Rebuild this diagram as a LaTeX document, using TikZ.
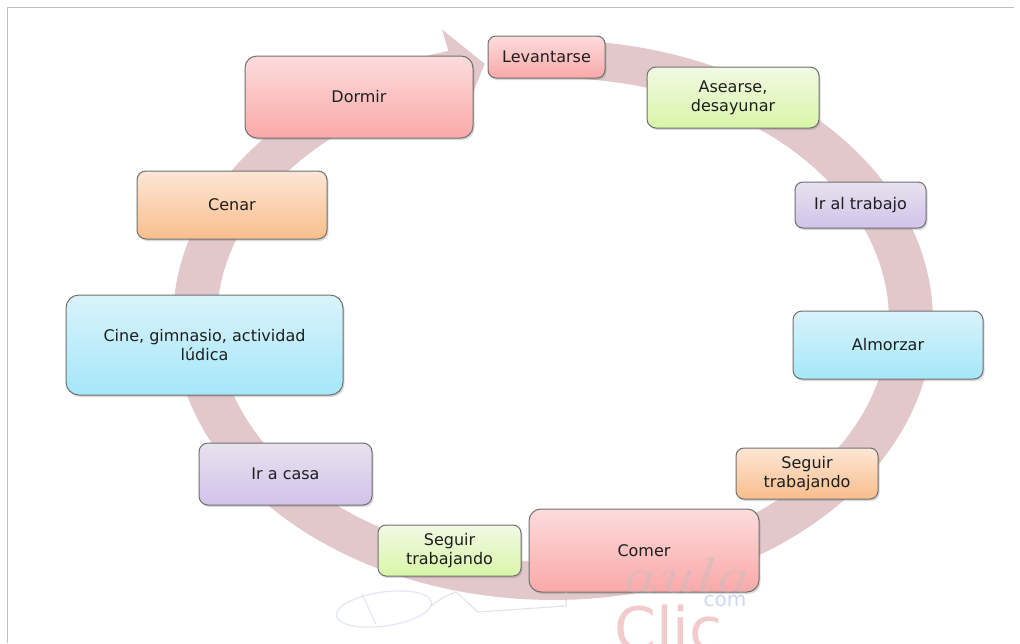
\documentclass[tikz,border=0pt]{standalone}
\usepackage{fontspec}
\newfontfamily\lab{DejaVu Sans}
\usetikzlibrary{shadows}
\definecolor{ringc}{RGB}{226,200,202}
\definecolor{boxline}{RGB}{112,112,112}
\definecolor{txt}{RGB}{30,30,30}
\definecolor{pinkT}{RGB}{252,220,220}\definecolor{pinkB}{RGB}{251,168,168}
\definecolor{greenT}{RGB}{242,249,228}\definecolor{greenB}{RGB}{216,246,168}
\definecolor{purpT}{RGB}{232,226,238}\definecolor{purpB}{RGB}{210,194,234}
\definecolor{blueT}{RGB}{218,243,251}\definecolor{blueB}{RGB}{164,231,249}
\definecolor{orT}{RGB}{252,230,214}\definecolor{orB}{RGB}{249,190,140}
\definecolor{frame}{RGB}{190,190,190}
\definecolor{wmgray}{RGB}{200,190,190}
\definecolor{wmblue}{RGB}{205,214,240}
\definecolor{wmpink}{RGB}{242,204,204}
\begin{document}
\begin{tikzpicture}[x=1pt,y=-1pt,
  box/.style={draw=boxline, line width=1pt, rounded corners=9pt, align=center,
    font=\lab\fontsize{16}{19}\selectfont, text=txt, inner sep=0pt,
    drop shadow={shadow xshift=1.5pt, shadow yshift=-2pt, opacity=0.3}},
  pinkbox/.style={box, top color=pinkT, bottom color=pinkB},
  greenbox/.style={box, top color=greenT, bottom color=greenB},
  purpbox/.style={box, top color=purpT, bottom color=purpB},
  bluebox/.style={box, top color=blueT, bottom color=blueB},
  orbox/.style={box, top color=orT, bottom color=orB},
]
\useasboundingbox (0,0) rectangle (1020,643);
\fill[white] (0,0) rectangle (1020,643);
% frame lines
\draw[frame, line width=1pt] (7,643) -- (7,7) -- (1014,7);
% circular arrow
\fill[ringc]
  plot[domain=268:614, samples=150] ({553+380*cos(\x)},{320+280*sin(\x)})
  -- ({553+402*cos(614)},{320+302*sin(614)})
  -- ({553+358*cos(619)},{320+261*sin(619)})
  -- ({553+314*cos(614)},{320+220*sin(614)})
  -- plot[domain=614:268, samples=150] ({553+336*cos(\x)},{320+242*sin(\x)})
  -- cycle;
% boxes
\node[pinkbox, minimum width=117pt, minimum height=42pt, rounded corners=8pt] (lev) at (546.5,57) {Levantarse};
\node[greenbox, minimum width=172pt, minimum height=61pt] (ase) at (733,97.5) {Asearse,\\desayunar};
\node[purpbox, minimum width=131pt, minimum height=46pt, rounded corners=8pt] (irt) at (860.5,205) {Ir al trabajo};
\node[bluebox, minimum width=190pt, minimum height=68pt] (alm) at (888,345) {Almorzar};
\node[orbox, minimum width=142pt, minimum height=51pt, rounded corners=8pt] (sgr) at (807,473.5) {Seguir\\trabajando};
\node[pinkbox, minimum width=230pt, minimum height=83pt, rounded corners=12pt] (com) at (644,550.5) {Comer};
\node[greenbox, minimum width=143pt, minimum height=51pt, rounded corners=8pt] (sgl) at (449.5,550.5) {Seguir\\trabajando};
\node[purpbox, minimum width=173pt, minimum height=62pt] (irc) at (285.5,474) {Ir a casa};
\node[bluebox, minimum width=277pt, minimum height=100pt, rounded corners=13pt] (cin) at (204.5,345) {Cine, gimnasio, actividad\\lúdica};
\node[orbox, minimum width=190pt, minimum height=68pt] (cen) at (232,205) {Cenar};
\node[pinkbox, minimum width=228pt, minimum height=82pt, rounded corners=12pt] (dor) at (359,97) {Dormir};
% watermark
\begin{scope}[opacity=0.55]
\draw[wmblue, line width=1.3pt, rotate around={8:(384,609)}] (384,609) ellipse [x radius=48, y radius=17];
\draw[wmblue, line width=1.1pt] (362,594) -- (376,624);
\draw[wmgray!80, line width=1.1pt] (431,606) .. controls (445,596) .. (456,592) -- (478,612) -- (566,606) -- (566,592);
\node[text=wmgray, anchor=base, font=\fontsize{50}{50}\selectfont\itshape] (aula) at (684,592) {\scalebox{1.45}[1]{aula}};
\end{scope}
\node[text=wmblue, font=\lab\fontsize{20}{20}\selectfont, anchor=base] (wcom) at (725,606) {com};
\node[text=wmpink, font=\lab\fontsize{60}{60}\selectfont, anchor=base west, inner sep=0pt] (wclic) at (614,650) {Clic};
\end{tikzpicture}
\end{document}
